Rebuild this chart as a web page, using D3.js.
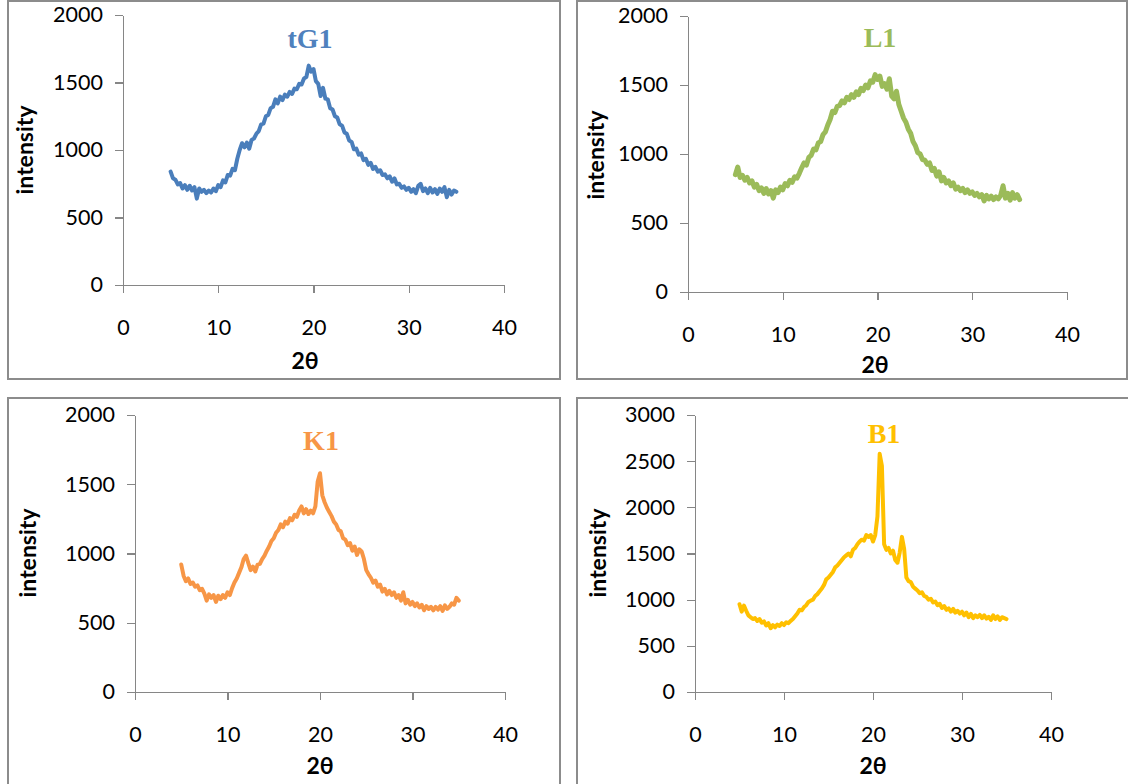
<!DOCTYPE html>
<html>
<head>
<meta charset="utf-8">
<script src="https://cdn.jsdelivr.net/npm/d3@7"></script>
<style>
  body { margin: 0; background: #fff; }
  svg { display: block; }
  .axis path, .axis line { stroke: #868686; stroke-width: 1.3px; shape-rendering: crispEdges; }
  .axis text { font-family: Lato, "Open Sans", sans-serif; font-size: 21.5px; fill: #000; }
  .axis-title { font-family: Lato, "Open Sans", sans-serif; font-weight: bold; font-size: 23px; fill: #000; }
  .panel-title { font-family: "Liberation Serif", "Times New Roman", serif; font-weight: bold; font-size: 28px; }
  .frame { fill: none; stroke: #8c8c8c; stroke-width: 1.3px; shape-rendering: crispEdges; }
  .trace { fill: none; stroke-linejoin: round; stroke-linecap: round; }
</style>
</head>
<body>
<svg id="chart" width="1128" height="784"></svg>
<script>

//============================================================
// Data
//------------------------------------------------------------

var twoTheta = [
  5, 5.25, 5.5, 5.75, 6, 6.25, 6.5, 6.75, 7, 7.25,
  7.5, 7.75, 8, 8.25, 8.5, 8.75, 9, 9.25, 9.5, 9.75,
  10, 10.25, 10.5, 10.75, 11, 11.25, 11.5, 11.75, 12, 12.25,
  12.5, 12.75, 13, 13.25, 13.5, 13.75, 14, 14.25, 14.5, 14.75,
  15, 15.25, 15.5, 15.75, 16, 16.25, 16.5, 16.75, 17, 17.25,
  17.5, 17.75, 18, 18.25, 18.5, 18.75, 19, 19.25, 19.5, 19.75,
  20, 20.25, 20.5, 20.75, 21, 21.25, 21.5, 21.75, 22, 22.25,
  22.5, 22.75, 23, 23.25, 23.5, 23.75, 24, 24.25, 24.5, 24.75,
  25, 25.25, 25.5, 25.75, 26, 26.25, 26.5, 26.75, 27, 27.25,
  27.5, 27.75, 28, 28.25, 28.5, 28.75, 29, 29.25, 29.5, 29.75,
  30, 30.25, 30.5, 30.75, 31, 31.25, 31.5, 31.75, 32, 32.25,
  32.5, 32.75, 33, 33.25, 33.5, 33.75, 34, 34.25, 34.5, 34.75,
  35
];

var tG1 = [
  840, 790, 780, 745, 755, 715, 740, 705, 735, 700,
  725, 640, 715, 690, 705, 680, 700, 685, 715, 695,
  740, 725, 775, 760, 815, 810, 860, 850, 935, 1000,
  1050, 1020, 1055, 1010, 1075, 1085, 1120, 1140, 1190, 1195,
  1250, 1260, 1310, 1320, 1375, 1345, 1395, 1370, 1410, 1395,
  1430, 1415, 1455, 1450, 1490, 1485, 1530, 1540, 1625, 1580,
  1600, 1510, 1490, 1400, 1460, 1380, 1375, 1310, 1300, 1250,
  1240, 1190, 1180, 1130, 1120, 1070, 1060, 1005, 1010, 965,
  975, 925, 935, 890, 905, 860, 875, 840, 850, 815,
  820, 790, 805, 765, 790, 745, 750, 720, 730, 705,
  720, 690, 710, 680, 735, 750, 695, 715, 680, 720,
  685, 710, 675, 715, 690, 725, 650, 705, 670, 700,
  690
];

var L1 = [
  850, 905, 830, 845, 810, 830, 790, 805, 760, 780,
  735, 755, 715, 750, 710, 735, 680, 740, 720, 760,
  740, 785, 770, 810, 795, 835, 825, 860, 900, 935,
  920, 975, 990, 1035, 1030, 1080, 1090, 1140, 1160, 1210,
  1250, 1310, 1300, 1345, 1350, 1385, 1370, 1410, 1395, 1430,
  1410, 1450, 1430, 1475, 1460, 1500, 1480, 1530, 1520, 1575,
  1540, 1565, 1490, 1510, 1470, 1545, 1420, 1400, 1455, 1360,
  1310, 1260, 1230, 1180, 1150, 1090, 1060, 1010, 1000, 960,
  955, 925, 935, 880, 895, 840, 870, 805, 830, 790,
  805, 770, 790, 745, 760, 735, 750, 720, 740, 715,
  725, 700, 715, 690, 705, 660, 700, 675, 695, 670,
  690, 675, 700, 770, 680, 715, 665, 720, 680, 705,
  670
];

var K1 = [
  920, 840, 800, 820, 780, 790, 760, 770, 735, 745,
  710, 660, 705, 680, 700, 650, 695, 670, 700, 680,
  720, 700, 750, 790, 820, 860, 900, 960, 985, 930,
  880, 905, 870, 920, 925, 960, 985, 1020, 1050, 1090,
  1110, 1150, 1170, 1210, 1190, 1230, 1215, 1255, 1240, 1280,
  1265, 1310, 1340, 1290, 1320, 1285, 1310, 1290, 1340, 1520,
  1580, 1420, 1370, 1330, 1300, 1270, 1230, 1210, 1170, 1160,
  1110, 1100, 1060, 1075, 1020, 1050, 990, 1030, 1015, 960,
  880, 850, 825, 790, 805, 760, 775, 725, 745, 705,
  730, 700, 720, 680, 700, 660, 720, 640, 665, 630,
  650, 620, 640, 610, 630, 590, 620, 600, 615, 590,
  615, 595, 620, 585, 625, 600, 615, 640, 630, 680,
  660
];

var B1 = [
  950, 870, 935, 880, 830, 810, 790, 800, 770, 790,
  750, 765, 720, 745, 690, 725, 700, 730, 715, 745,
  725, 755, 745, 770, 790, 820, 850, 890, 885, 920,
  940, 975, 990, 1000, 1040, 1060, 1090, 1120, 1160, 1220,
  1240, 1270, 1300, 1350, 1370, 1400, 1430, 1460, 1480, 1500,
  1470, 1540, 1560, 1600, 1630, 1650, 1640, 1700, 1680, 1700,
  1630, 1700, 1900, 2580, 2450, 1600, 1540, 1560, 1500, 1530,
  1430, 1400, 1510, 1680, 1550, 1240, 1200, 1190, 1140, 1120,
  1100, 1070, 1080, 1040, 1030, 1000, 1010, 970, 980, 940,
  955, 910, 930, 890, 905, 870, 900, 860, 880, 850,
  870, 830, 860, 810, 845, 800, 830, 810, 835, 800,
  830, 795, 815, 780, 830, 790, 820, 780, 810, 800,
  790
];

var xTicks = [0, 10, 20, 30, 40];
var yTicks2000 = [0, 500, 1000, 1500, 2000];
var yTicks3000 = [0, 500, 1000, 1500, 2000, 2500, 3000];

//============================================================
// Panel layout
//------------------------------------------------------------

var panels = [
  { name: 'tG1', values: tG1, color: '#4a7ebb', titleColor: '#4f81bd', width: 4,
    box: {x: 8, y: 1, w: 552, h: 378},
    plot: {left: 123, right: 504, top: 15, bottom: 285},
    yMax: 2000, yTicks: yTicks2000,
    title: [310, 48], xTitle: [305, 369], yTitle: [33, 150] },
  { name: 'L1', values: L1, color: '#9bbb59', titleColor: '#9bbb59', width: 5,
    box: {x: 577, y: 1, w: 550, h: 378},
    plot: {left: 688, right: 1067, top: 16, bottom: 292},
    yMax: 2000, yTicks: yTicks2000,
    title: [880, 47], xTitle: [875, 373], yTitle: [604, 155] },
  { name: 'K1', values: K1, color: '#f79646', titleColor: '#f79646', width: 4,
    box: {x: 8, y: 398, w: 552, h: 400},
    plot: {left: 135, right: 505, top: 415, bottom: 692},
    yMax: 2000, yTicks: yTicks2000,
    title: [321, 450], xTitle: [320, 774], yTitle: [36, 553] },
  { name: 'B1', values: B1, color: '#ffc000', titleColor: '#ffc000', width: 4,
    box: {x: 577, y: 398, w: 560, h: 400},
    plot: {left: 695, right: 1051, top: 415, bottom: 692},
    yMax: 3000, yTicks: yTicks3000,
    title: [884, 443], xTitle: [873, 774], yTitle: [606, 553] }
];

var svg = d3.select('#chart');

panels.forEach(function (p) {
  var g = svg.append('g').attr('class', 'panel panel-' + p.name);

  g.append('rect')
      .attr('class', 'frame')
      .attr('x', p.box.x)
      .attr('y', p.box.y)
      .attr('width', p.box.w)
      .attr('height', p.box.h);

  var x = d3.scaleLinear().domain([0, 40]).range([p.plot.left, p.plot.right]);
  var y = d3.scaleLinear().domain([0, p.yMax]).range([p.plot.bottom, p.plot.top]);

  //------------------------------------------------------------
  // Axes

  g.append('g')
      .attr('class', 'axis y-axis')
      .attr('transform', 'translate(' + p.plot.left + ',0)')
      .call(d3.axisLeft(y).tickValues(p.yTicks).tickFormat(d3.format('d'))
        .tickSize(8).tickSizeOuter(0).tickPadding(12));

  g.append('g')
      .attr('class', 'axis x-axis')
      .attr('transform', 'translate(0,' + p.plot.bottom + ')')
      .call(d3.axisBottom(x).tickValues(xTicks).tickFormat(d3.format('d'))
        .tickSize(8).tickSizeOuter(0).tickPadding(27));

  //------------------------------------------------------------
  // Trace

  var line = d3.line()
      .x(function (d, i) { return x(twoTheta[i]); })
      .y(function (d) { return y(d); });

  g.append('path')
      .datum(p.values)
      .attr('class', 'trace')
      .attr('stroke', p.color)
      .attr('stroke-width', p.width)
      .attr('d', line);

  //------------------------------------------------------------
  // Titles

  g.append('text')
      .attr('class', 'panel-title')
      .attr('x', p.title[0])
      .attr('y', p.title[1])
      .attr('text-anchor', 'middle')
      .attr('fill', p.titleColor)
      .text(p.name);

  g.append('text')
      .attr('class', 'axis-title')
      .attr('x', p.xTitle[0])
      .attr('y', p.xTitle[1])
      .attr('text-anchor', 'middle')
      .text('2θ');

  g.append('text')
      .attr('class', 'axis-title')
      .attr('transform', 'translate(' + p.yTitle[0] + ',' + p.yTitle[1] + ') rotate(-90)')
      .attr('text-anchor', 'middle')
      .text('intensity');
});

</script>
</body>
</html>
